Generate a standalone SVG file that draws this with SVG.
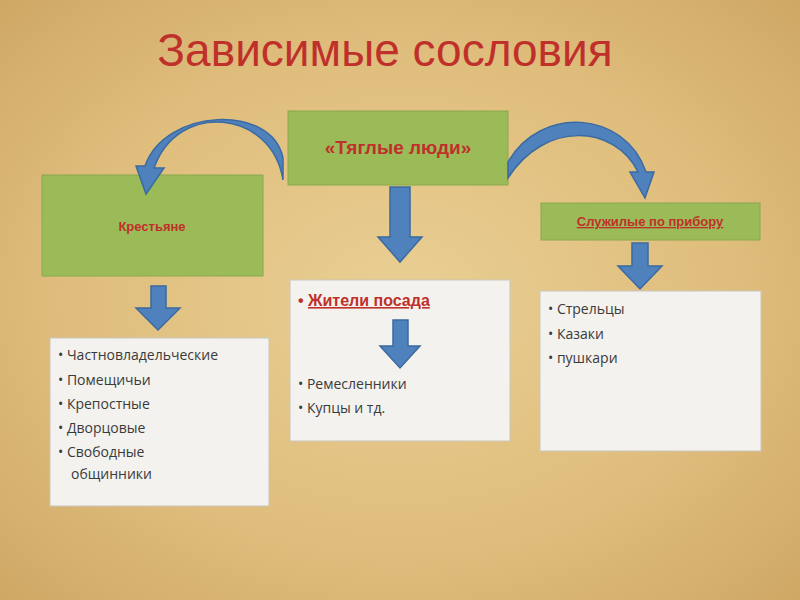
<svg xmlns="http://www.w3.org/2000/svg" width="800" height="600" viewBox="0 0 800 600">
<defs>
<radialGradient id="bg" cx="50%" cy="50%" r="70%">
<stop offset="0" stop-color="#e9cf94"/><stop offset="0.6" stop-color="#dfbd7c"/><stop offset="1" stop-color="#cfa866"/>
</radialGradient>
<style>
.green{fill:#9bbb59;stroke:#8aa84c;stroke-width:1}
.white{fill:#f3f2ee;stroke:#c9c6bc;stroke-width:1}
.h{font-family:"Liberation Sans",Arial,sans-serif;font-weight:bold;fill:#c0302a}
.t{font-family:"Open Sans","Liberation Sans",sans-serif;font-size:14px;fill:#3a3a3a}
.arr{fill:#4f81bd;stroke:#3a6aa0;stroke-width:1.5}
</style>
</defs>
<rect width="800" height="600" fill="url(#bg)"/>
<text x="385" y="66" text-anchor="middle" font-family="Liberation Sans,Arial,sans-serif" font-size="46" fill="#c0302a">Зависимые сословия</text>
<g id="tyaglye"><rect class="green" x="288" y="111" width="220" height="74"/>
<text class="h" x="398" y="154" text-anchor="middle" font-size="19">«Тяглые люди»</text></g>
<g id="krestyane"><rect class="green" x="42" y="175" width="221" height="101"/>
<text class="h" x="152" y="231" text-anchor="middle" font-size="13">Крестьяне</text></g>
<g id="sluzhilye"><rect class="green" x="541" y="203" width="219" height="37"/>
<text class="h" x="650" y="226" text-anchor="middle" font-size="13" text-decoration="underline">Служилые по прибору</text></g>
<g id="left-list"><rect class="white" x="50" y="338" width="219" height="168"/>
<text class="t" x="58" y="360">• Частновладельческие</text>
<text class="t" x="58" y="385">• Помещичьи</text>
<text class="t" x="58" y="409">• Крепостные</text>
<text class="t" x="58" y="433">• Дворцовые</text>
<text class="t" x="58" y="457">• Свободные</text>
<text class="t" x="71" y="479">общинники</text></g>
<g id="posad"><rect class="white" x="290" y="280" width="220" height="161"/>
<text class="h" x="298" y="306" font-size="16" fill="#c0302a">• <tspan text-decoration="underline">Жители посада</tspan></text>
<text class="t" x="298" y="389">• Ремесленники</text>
<text class="t" x="298" y="413">• Купцы и тд.</text></g>
<g id="right-list"><rect class="white" x="540" y="291" width="221" height="160"/>
<text class="t" x="548" y="314">• Стрельцы</text>
<text class="t" x="548" y="339">• Казаки</text>
<text class="t" x="548" y="363">• пушкари</text></g>
<g id="connectors">
<path class="arr" d="M283,180 C272,110 178,100 154,168 L164,168 L146,194 L136,166 L145,166 C165,108 272,103 283,158 Z"/>
<path class="arr" d="M508,178 L508,162 C540,105 625,110 646,172 L654,172 L645,198 L630,172 L638,172 C615,125 545,120 508,178 Z"/>
<path class="arr" d="M390,187 L410,187 L410,237 L422,237 L400,262 L378,237 L390,237 Z"/>
<path class="arr" d="M151,286 L166,286 L166,308 L180,308 L158,330 L136,308 L151,308 Z"/>
<path class="arr" d="M632,243 L648,243 L648,266 L662,266 L640,289 L618,266 L632,266 Z"/>
<path class="arr" d="M393,320 L408,320 L408,346 L420,346 L400,368 L380,346 L393,346 Z"/>
</g>
</svg>
